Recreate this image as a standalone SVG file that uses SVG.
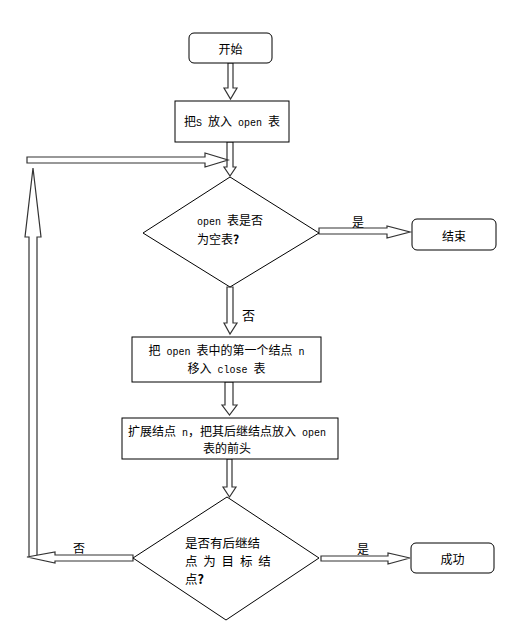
<svg xmlns="http://www.w3.org/2000/svg" width="528" height="628" viewBox="0 0 528 628">
<style>
.box{fill:#fff;stroke:#000;stroke-width:1}
.arr{fill:#fff;stroke:#333;stroke-width:1.2;stroke-linejoin:miter}
.t{font-family:"Noto Sans CJK SC","Liberation Sans",sans-serif;font-size:12px;fill:#000}
.m{font-family:"Liberation Mono",monospace;font-size:10px}
</style>
<rect width="528" height="628" fill="#fff"/>
<g id="connectors">
<polygon class="arr" points="228,63 228,88 224,88 230.5,99 237,88 233,88 233,63"/>
<polygon class="arr" points="227,142 227,167 224,167 230,176 236,167 233,167 233,142"/>
<path class="arr" d="M29,556 L29,237 L25,237 L33,168 L41,237 L37,237 L37,556"/>
<polygon class="arr" points="27,157 205,157 205,153 228,160 205,167 205,163 27,163"/>
<polygon class="arr" points="319,228 387,228 387,226 410,232 387,238 387,234 319,234"/>
<polygon class="arr" points="227,287 227,323 224,323 230,334 237,323 233,323 233,287"/>
<polygon class="arr" points="225,382 225,405 222,405 229.5,415 237,405 233,405 233,382"/>
<polygon class="arr" points="227,459 227,487 223,487 229.5,497 236,487 232,487 232,459"/>
<polygon class="arr" points="133,555 55,555 55,552 27,557 55,563 55,561 133,561"/>
<polygon class="arr" points="321,556 388,556 388,553 410,558 388,564 388,561 321,561"/>
<text class="t" x="352" y="227">是</text>
<text class="t" x="242" y="320" style="font-size:13px">否</text>
<text class="t" x="357" y="554">是</text>
<text class="t" x="73" y="553">否</text>
</g>
<g id="start">
<rect class="box" x="189" y="33" width="83" height="30" rx="5"/>
<text class="t" x="230.5" y="54" text-anchor="middle">开始</text>
</g>
<g id="put-s">
<rect class="box" x="175" y="101" width="114" height="41"/>
<text class="t" x="232" y="126" text-anchor="middle">把<tspan class="m">S </tspan>放入<tspan class="m"> open </tspan>表</text>
</g>
<g id="is-empty">
<polygon class="box" points="230,177 319,233 230,287 143,233"/>
<text class="t" x="197" y="225"><tspan class="m">open </tspan>表是否</text>
<text class="t" x="197" y="244">为空表<tspan style="font-weight:bold">?</tspan></text>
</g>
<g id="end">
<rect class="box" x="412" y="219" width="84" height="31" rx="5"/>
<text class="t" x="454" y="241" text-anchor="middle">结束</text>
</g>
<g id="move-close">
<rect class="box" x="132" y="337" width="189" height="45"/>
<text class="t" x="226.5" y="355" text-anchor="middle">把<tspan class="m"> open </tspan>表中的第一个结点<tspan class="m"> n</tspan></text>
<text class="t" x="226.5" y="373" text-anchor="middle">移入<tspan class="m"> close </tspan>表</text>
</g>
<g id="expand">
<rect class="box" x="122" y="418" width="216" height="41"/>
<text class="t" x="227" y="436" text-anchor="middle">扩展结点<tspan class="m"> n</tspan>，把其后继结点放入<tspan class="m"> open</tspan></text>
<text class="t" x="227" y="453" text-anchor="middle">表的前头</text>
</g>
<g id="is-goal">
<polygon class="box" points="227,497 319,558 226,620 133,558"/>
<text class="t" x="185" y="548" style="font-size:12.5px">是否有后继结</text>
<text class="t" x="185" y="566" style="font-size:12.5px;word-spacing:3px" xml:space="preserve">点 为 目 标 结</text>
<text class="t" x="185" y="584" style="font-size:12.5px">点<tspan style="font-weight:bold">?</tspan></text>
</g>
<g id="success">
<rect class="box" x="411" y="543" width="83" height="30" rx="5"/>
<text class="t" x="452.5" y="564" text-anchor="middle">成功</text>
</g>
</svg>
